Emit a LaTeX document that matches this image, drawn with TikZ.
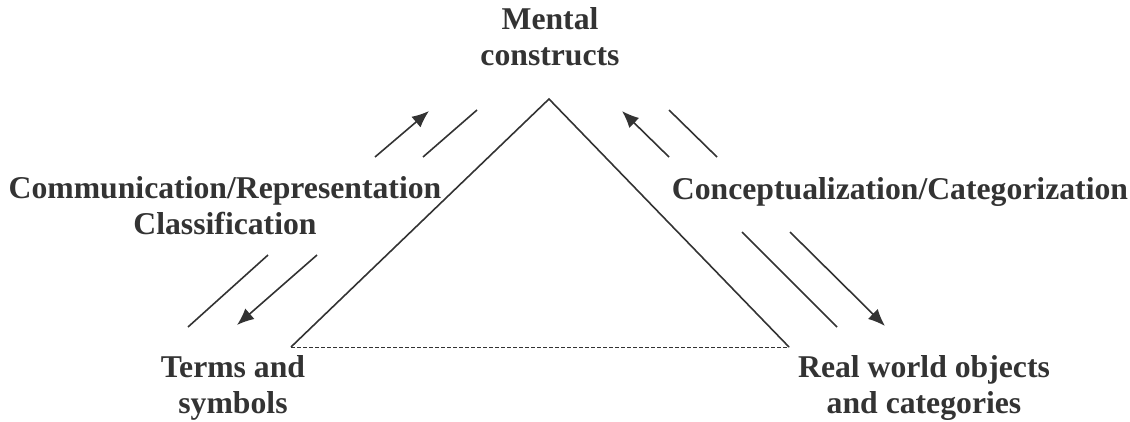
\documentclass[tikz,border=0pt]{standalone}
\usepackage{fontspec}
\setmainfont{Liberation Serif}
\usetikzlibrary{arrows.meta}
\definecolor{ink}{HTML}{333333}
\begin{document}
\begin{tikzpicture}[x=1pt,y=-1pt,>={Latex[length=17pt,width=14pt]},line width=1.6pt,color=ink,
  lbl/.style={align=center,font=\fontsize{31.7}{36}\selectfont\bfseries,inner sep=0pt,anchor=base}]
\useasboundingbox (0,0) rectangle (1130,421);
% triangle
\coordinate (apex) at (549,99);
\coordinate (lft) at (291,347);
\coordinate (rgt) at (789,347);
\draw (lft)--(apex)--(rgt);
\draw[line width=0.7pt,dash pattern=on 4pt off 2pt] (lft)--(rgt);

% labels (anchored on the baseline of the last line)
\node[lbl] (mental) at (550,65) {Mental\\constructs};
\node[lbl] (comm) at (225,234) {Communication/Representation\\Classification};
\node[lbl] (concept) at (900,199) {Conceptualization/Categorization};
\node[lbl] (terms) at (233,413) {Terms and\\symbols};
\node[lbl] (real) at (924,413) {Real world objects\\and categories};

% plain strokes
\foreach \a/\b in {{423,157}/{477,110},{669,110}/{717,157},{268,255}/{188,327},{742,232}/{837,327}}
{
    \draw (\a)--(\b);
}
% arrows
\foreach \a/\b in {{375,157}/{429,111},{669,157}/{622,111},{317,255}/{237,325},{790,232}/{885,326}}
{
    \draw[->] (\a)--(\b);
}

\end{tikzpicture}
\end{document}
